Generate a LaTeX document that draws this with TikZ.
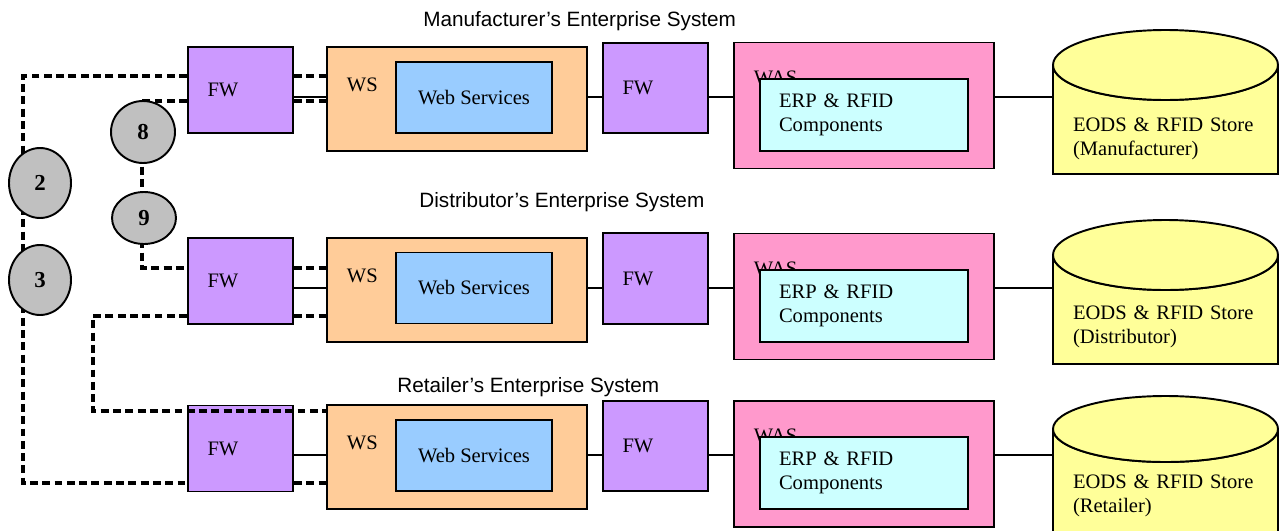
\documentclass[tikz,border=0pt]{standalone}
\usepackage{fontspec}
\setmainfont{Liberation Serif}
\newfontfamily\titlefont{Liberation Sans}
\usetikzlibrary{shapes.geometric}

\definecolor{fwpurple}{HTML}{CC99FF}
\definecolor{wspeach}{HTML}{FFCC99}
\definecolor{wsblue}{HTML}{99CCFF}
\definecolor{waspink}{HTML}{FF99CC}
\definecolor{erpcyan}{HTML}{CCFFFF}
\definecolor{storeyellow}{HTML}{FFFF99}
\definecolor{stepgray}{HTML}{C0C0C0}

\begin{document}
\begin{tikzpicture}[x=0.02cm, y=0.02cm,
    box/.style={draw, line width=1.1pt, rectangle, inner sep=0pt, font=\fontsize{11.7}{14}\selectfont},
    cornerlabel/.style 2 args={label={[anchor=north west, inner sep=0pt, xshift=0.41cm, yshift=-#2, font=\fontsize{11.7}{14}\selectfont]north west:#1}},
    fw/.style={box, fill=fwpurple, minimum height=1.72cm, text width=1.32cm, inner xsep=0.39cm, align=left},
    ws/.style={box, fill=wspeach, minimum width=5.2cm, minimum height=2.08cm, cornerlabel={WS}{0.62cm}},
    websrv/.style={box, fill=wsblue, minimum width=3.12cm, minimum height=1.42cm},
    was/.style={box, fill=waspink, minimum width=5.2cm, minimum height=2.52cm, cornerlabel={WAS}{0.57cm}},
    erp/.style={box, fill=erpcyan, text width=3.4cm, inner xsep=0.38cm, minimum height=1.44cm, align=left},
    storetext/.style={font=\fontsize{11.7}{13.3}\selectfont, text width=3.7cm, inner xsep=0.4cm, inner ysep=0pt, align=left},
    storebox/.style={draw, line width=1.1pt, fill=storeyellow},
    stepcirc/.style={ellipse, draw, line width=1.1pt, fill=stepgray, inner sep=0pt, font=\fontsize{13}{15}\selectfont\bfseries},
    systitle/.style={anchor=west, inner sep=0pt, font=\titlefont\fontsize{11.8}{14}\selectfont},
    link/.style={line width=1.1pt},
    dashlink/.style={line width=1.8pt, dash pattern=on 4.5pt off 2.5pt}]

    \useasboundingbox (0,0) rectangle (1279,-531);
    \clip (0,0) rectangle (1279,-531);

    % rows of the solid links and bends of the dashed links
    \coordinate (r1) at (0,-97);
    \coordinate (r2) at (0,-288);
    \coordinate (r3) at (0,-455);
    \coordinate (a1) at (23,-76);
    \coordinate (a2) at (23,-483);
    \coordinate (b1) at (142,-101);
    \coordinate (b2) at (142,-268);
    \coordinate (c1) at (93,-316);
    \coordinate (c2) at (93,-411);

    % titles
    \node[systitle] at (423,-21) (title1) {Manufacturer’s Enterprise System};
    \node[systitle] at (419,-202) (title2) {Distributor’s Enterprise System};
    \node[systitle] at (397,-387) (title3) {Retailer’s Enterprise System};

    % store cylinders
    \filldraw[storebox] (1053,-65) -- (1053,-174) -- (1278,-174) -- (1278,-65) arc[start angle=0, end angle=-180, x radius=112.5, y radius=35] -- cycle;
    \filldraw[storebox] (1165.5,-65) ellipse[x radius=112.5, y radius=35];
    \filldraw[storebox] (1053,-255) -- (1053,-364) -- (1278,-364) -- (1278,-255) arc[start angle=0, end angle=-180, x radius=112.5, y radius=35] -- cycle;
    \filldraw[storebox] (1165.5,-255) ellipse[x radius=112.5, y radius=35];
    \filldraw[storebox] (1053,-429) -- (1053,-560) -- (1278,-560) -- (1278,-429) arc[start angle=0, end angle=-180, x radius=112.5, y radius=33] -- cycle;
    \filldraw[storebox] (1165.5,-429) ellipse[x radius=112.5, y radius=33];

    % manufacturer
    \node[fw] at (240.5,-90) (fw1) {FW};
    \node[ws] at (457,-99) (ws1) {};
    \node[websrv] at (474,-97.5) (websrv1) {Web Services};
    \node[fw, minimum height=1.8cm] at (655.5,-88) (fwb1) {FW};
    \node[was] at (864,-105.5) (was1) {};
    \node[erp] at (864,-115) (erp1) {ERP \& RFID\\Components};
    \node[storetext] at (1165.5,-139) (store1) {EODS \& RFID Store\\(Manufacturer)};

    % distributor
    \node[fw] at (240.5,-281) (fw2) {FW};
    \node[ws] at (457,-290) (ws2) {};
    \node[websrv] at (474,-288) (websrv2) {Web Services};
    \node[fw, minimum height=1.82cm] at (655.5,-278.5) (fwb2) {FW};
    \node[was] at (864,-296.5) (was2) {};
    \node[erp] at (864,-306) (erp2) {ERP \& RFID\\Components};
    \node[storetext] at (1165.5,-327) (store2) {EODS \& RFID Store\\(Distributor)};

    % retailer
    \node[fw] at (240.5,-448.5) (fw3) {FW};
    \node[ws] at (457,-457) (ws3) {};
    \node[websrv] at (474,-455.5) (websrv3) {Web Services};
    \node[fw, minimum height=1.8cm] at (655.5,-446) (fwb3) {FW};
    \node[was] at (864,-464) (was3) {};
    \node[erp] at (864,-473) (erp3) {ERP \& RFID\\Components};
    \node[storetext] at (1165.5,-496) (store3) {EODS \& RFID Store\\(Retailer)};

    \draw[link] (fw1.east |- r1) -- (ws1.west |- r1);
    \draw[link] (ws1.east |- r1) -- (fwb1.west |- r1);
    \draw[link] (fwb1.east |- r1) -- (was1.west |- r1);
    \draw[link] (was1.east |- r1) -- (store1.west |- r1);
    \draw[link] (fw2.east |- r2) -- (ws2.west |- r2);
    \draw[link] (ws2.east |- r2) -- (fwb2.west |- r2);
    \draw[link] (fwb2.east |- r2) -- (was2.west |- r2);
    \draw[link] (was2.east |- r2) -- (store2.west |- r2);
    \draw[link] (fw3.east |- r3) -- (ws3.west |- r3);
    \draw[link] (ws3.east |- r3) -- (fwb3.west |- r3);
    \draw[link] (fwb3.east |- r3) -- (was3.west |- r3);
    \draw[link] (was3.east |- r3) -- (store3.west |- r3);

    % dashed links between the web servers
    \draw[dashlink] (fw1.west |- a1) -- (a1) -- (a2) -- (fw3.west |- a2);
    \draw[dashlink] (fw1.east |- a1) -- (ws1.west |- a1);
    \draw[dashlink] (fw3.east |- a2) -- (ws3.west |- a2);
    \draw[dashlink] (fw1.west |- b1) -- (b1) -- (b2) -- (fw2.west |- b2);
    \draw[dashlink] (fw1.east |- b1) -- (ws1.west |- b1);
    \draw[dashlink] (fw2.east |- b2) -- (ws2.west |- b2);
    \draw[dashlink] (fw2.west |- c1) -- (c1) -- (c2) -- (ws3.west |- c2);
    \draw[dashlink] (fw2.east |- c1) -- (ws2.west |- c1);

    % numbered steps
    \node[stepcirc, minimum width=1.24cm, minimum height=1.4cm] at (40,-183) (n2) {2};
    \node[stepcirc, minimum width=1.24cm, minimum height=1.4cm] at (40,-280) (n3) {3};
    \node[stepcirc, minimum width=1.28cm, minimum height=1.24cm] at (143,-132) (n8) {8};
    \node[stepcirc, minimum width=1.28cm, minimum height=1.04cm] at (144,-218) (n9) {9};
\end{tikzpicture}
\end{document}
